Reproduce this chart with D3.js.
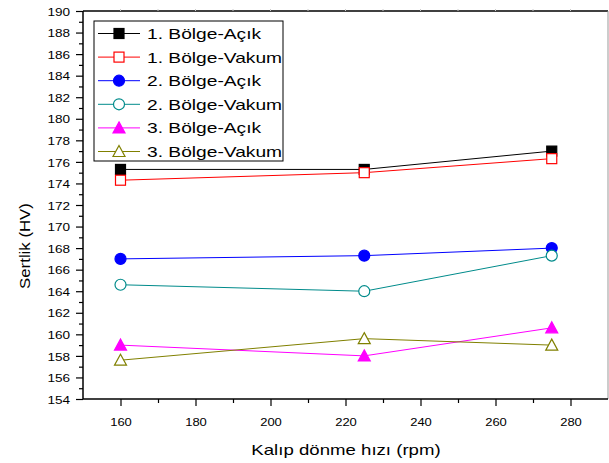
<!DOCTYPE html>
<html>
<head>
<meta charset="utf-8">
<script src="https://cdn.jsdelivr.net/npm/d3@7"></script>
<style>
body { margin: 0; background: #fff; }
svg text { font-family: "Liberation Sans", Arial, sans-serif; fill: #000; }
</style>
</head>
<body>
<div id="canvas"><svg width="609" height="463"></svg></div>
<script>
var speeds = [160, 225, 275];
var seriesNames = ["1. Bölge-Açık", "1. Bölge-Vakum", "2. Bölge-Açık", "2. Bölge-Vakum", "3. Bölge-Açık", "3. Bölge-Vakum"];
var b1Acik  = [175.3, 175.3, 177.0];
var b1Vakum = [174.3, 175.0, 176.3];
var b2Acik  = [167.0, 167.3, 168.0];
var b2Vakum = [164.6, 164.0, 167.3];
var b3Acik  = [159.0, 158.0, 160.6];
var b3Vakum = [157.6, 159.6, 159.0];
var xTicks = [160, 180, 200, 220, 240, 260, 280];

var series = [
  {name: seriesNames[0], values: b1Acik,  color: "#000000", shape: "square",   filled: true},
  {name: seriesNames[1], values: b1Vakum, color: "#ff0000", shape: "square",   filled: false},
  {name: seriesNames[2], values: b2Acik,  color: "#0000ff", shape: "circle",   filled: true},
  {name: seriesNames[3], values: b2Vakum, color: "#008b8b", shape: "circle",   filled: false},
  {name: seriesNames[4], values: b3Acik,  color: "#ff00ff", shape: "triangle", filled: true},
  {name: seriesNames[5], values: b3Vakum, color: "#808000", shape: "triangle", filled: false}
];

var svg = d3.select("#canvas svg");
var pLeft = 83, pRight = 608, pTop = 11, pBottom = 399;

var x = d3.scaleLinear().domain([150, 290]).range([pLeft, pRight]);
var y = d3.scaleLinear().domain([154, 190]).range([pBottom, pTop]);

// frame: top and right
svg.append("line").attr("x1", pLeft).attr("x2", pRight).attr("y1", pTop).attr("y2", pTop)
  .attr("stroke", "#000").attr("stroke-width", 1.5);
svg.append("line").attr("x1", pRight).attr("x2", pRight).attr("y1", pTop).attr("y2", pBottom)
  .attr("stroke", "#999").attr("stroke-width", 1);

// faint top ticks
svg.append("g").selectAll("line").data(d3.range(160, 290, 10)).enter().append("line")
  .attr("x1", function (d) {return x(d);}).attr("x2", function (d) {return x(d);})
  .attr("y1", pTop).attr("y2", pTop - 2)
  .attr("stroke", "#ccc");

// y axis
var yAxis = svg.append("g").attr("transform", "translate(" + pLeft + ",0)")
  .call(d3.axisLeft(y).tickValues(d3.range(154, 191, 2)).tickSize(7));
svg.append("g").attr("class", "minor").attr("transform", "translate(" + pLeft + ",0)")
  .call(d3.axisLeft(y).tickValues(d3.range(155, 190, 2)).tickSize(4).tickFormat(""));

// x axis
var xAxis = svg.append("g").attr("transform", "translate(0," + pBottom + ")")
  .call(d3.axisBottom(x).tickValues(xTicks).tickSize(7));
svg.append("g").attr("class", "minor").attr("transform", "translate(0," + pBottom + ")")
  .call(d3.axisBottom(x).tickValues(d3.range(170, 290, 20)).tickSize(4).tickFormat(""));

svg.selectAll(".minor .domain").remove();
yAxis.select(".domain").attr("d", "M0," + pTop + "V" + pBottom).attr("stroke-width", 1.5);
xAxis.select(".domain").attr("d", "M" + pLeft + ",0H" + pRight).attr("stroke-width", 1.5);
svg.selectAll(".tick line").attr("stroke-width", 1.2);

yAxis.selectAll(".tick text")
  .attr("x", 0).attr("dy", "0.36em")
  .attr("font-size", 11.5).attr("font-family", null)
  .attr("transform", "translate(-13,0) scale(1.18,1)");
xAxis.selectAll(".tick text")
  .attr("y", 0).attr("dy", 0)
  .attr("font-size", 11).attr("font-family", null)
  .attr("transform", "translate(0,26.5) scale(1.18,1)");

// titles
svg.append("text").attr("transform", "translate(30,246) rotate(-90) scale(1.2,1)")
  .attr("text-anchor", "middle").attr("font-size", 14).text("Sertlik (HV)");
svg.append("text").attr("transform", "translate(346,455) scale(1.33,1)")
  .attr("text-anchor", "middle").attr("font-size", 14).text("Kalıp dönme hızı (rpm)");

function drawMarker(sel, s) {
  var fill = s.filled ? s.color : "#fff";
  if (s.shape === "square") {
    sel.append("rect").attr("x", -5).attr("y", -5).attr("width", 10).attr("height", 10)
      .attr("fill", fill).attr("stroke", s.color).attr("stroke-width", 1.2);
  } else if (s.shape === "circle") {
    sel.append("circle").attr("r", 5.5)
      .attr("fill", fill).attr("stroke", s.color).attr("stroke-width", 1.2);
  } else {
    sel.append("path").attr("d", "M0,-6L6,5L-6,5Z")
      .attr("fill", fill).attr("stroke", s.color).attr("stroke-width", 1.2);
  }
}

var line = d3.line()
  .x(function (d, i) {return x(speeds[i]);})
  .y(function (d) {return y(d);});

series.forEach(function (s) {
  svg.append("path").datum(s.values).attr("d", line)
    .attr("fill", "none").attr("stroke", s.color).attr("stroke-width", 1);
  s.values.forEach(function (v, i) {
    var g = svg.append("g").attr("transform", "translate(" + x(speeds[i]) + "," + y(v) + ")");
    drawMarker(g, s);
  });
});

// legend
var legend = svg.append("g");
legend.append("rect").attr("x", 94).attr("y", 21).attr("width", 189).attr("height", 140)
  .attr("fill", "#fff").attr("stroke", "#000").attr("stroke-width", 1);
series.forEach(function (s, i) {
  var ly = 33.5 + i * 23.6;
  legend.append("line").attr("x1", 98).attr("x2", 140).attr("y1", ly).attr("y2", ly)
    .attr("stroke", s.color).attr("stroke-width", 1);
  drawMarker(legend.append("g").attr("transform", "translate(119," + ly + ")"), s);
  legend.append("text").attr("transform", "translate(147," + (ly + 5.5) + ") scale(1.28,1)")
    .attr("font-size", 15).text(s.name);
});
</script>
</body>
</html>
